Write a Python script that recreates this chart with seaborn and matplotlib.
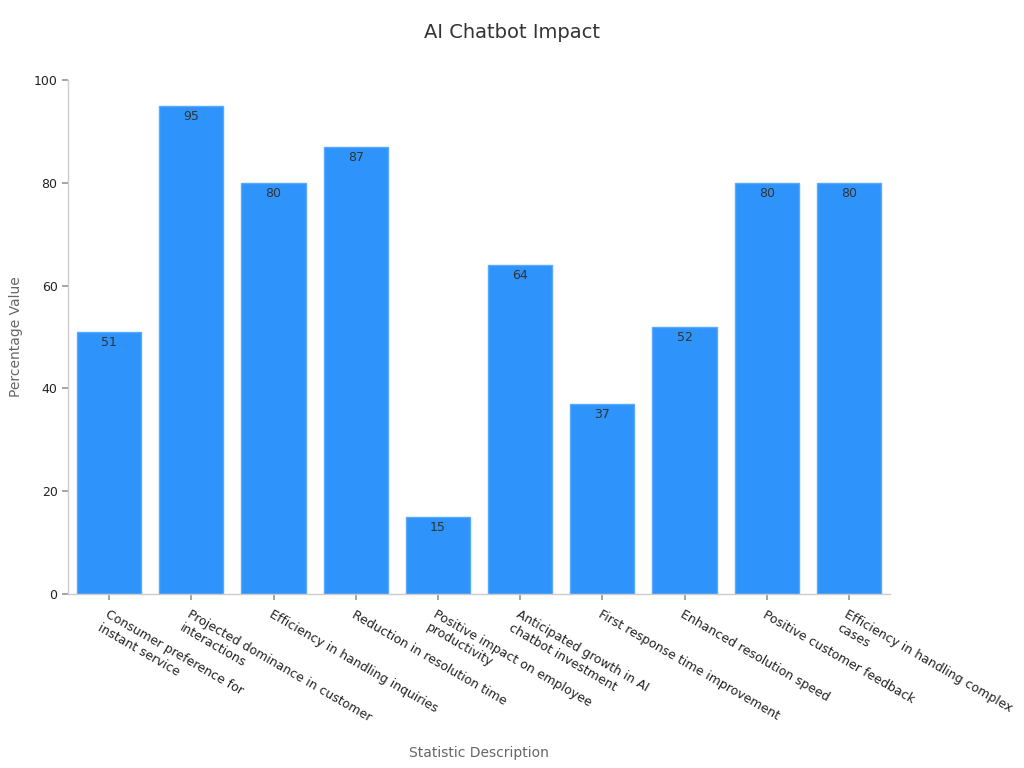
import matplotlib
matplotlib.use("Agg")
import matplotlib.pyplot as plt
import seaborn as sns
import pandas as pd

categories = [
    "Consumer preference for\ninstant service",
    "Projected dominance in customer\ninteractions",
    "Efficiency in handling inquiries",
    "Reduction in resolution time",
    "Positive impact on employee\nproductivity",
    "Anticipated growth in AI\nchatbot investment",
    "First response time improvement",
    "Enhanced resolution speed",
    "Positive customer feedback",
    "Efficiency in handling complex\ncases",
]
values = [51, 95, 80, 87, 15, 64, 37, 52, 80, 80]

df = pd.DataFrame({"Statistic Description": categories, "Percentage Value": values})

sns.set_theme(style="white")
plt.rcParams['font.family'] = ['DejaVu Sans']

fig = plt.figure(figsize=(10.24, 7.68), dpi=100)
ax = fig.add_axes([68/1024, 1-594/768, (890-68)/1024, (594-80)/768])

sns.barplot(data=df, x="Statistic Description", y="Percentage Value",
            color="#2E93FA", saturation=1, edgecolor="#5AAAFB", linewidth=1, ax=ax, width=0.78)

for i, v in enumerate(values):
    ax.text(i, v - 0.8, str(v), ha="center", va="top", fontsize=9, color="#333333")

ax.set_ylim(0, 100)
ax.set_yticks([0, 20, 40, 60, 80, 100])
ax.tick_params(axis="both", which="both", length=4, color="#999999", labelsize=9, labelcolor="#222222")
ax.tick_params(axis="x", bottom=True, pad=6)
ax.tick_params(axis="y", left=True)
plt.setp(ax.get_xticklabels(), rotation=-30, ha="left", rotation_mode="anchor")

for s in ["top", "right"]:
    ax.spines[s].set_visible(False)
for s in ["left", "bottom"]:
    ax.spines[s].set_color("#cccccc")
    ax.spines[s].set_linewidth(1)

ax.set_xlabel("Statistic Description", fontsize=10, color="#666666")
ax.set_ylabel("Percentage Value", fontsize=10, color="#666666", labelpad=8)
ax.xaxis.set_label_coords(0.5, -0.295)
fig.text(512/1024, 1-33/768, "AI Chatbot Impact", ha="center", va="center", fontsize=14, color="#333333")

fig.savefig("out.png", dpi=100)
